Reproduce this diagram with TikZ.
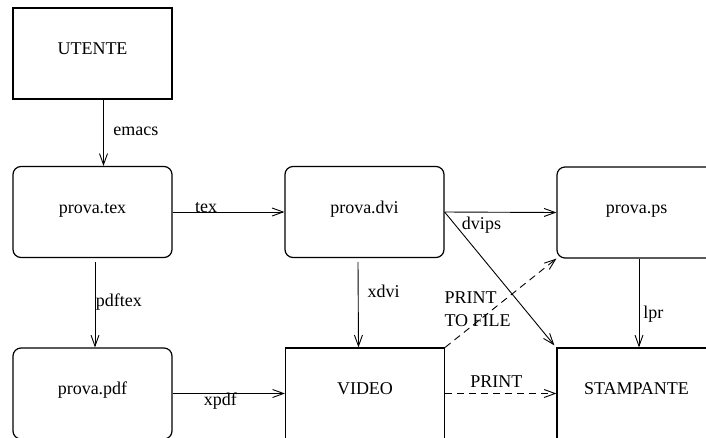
\documentclass[tikz,border=0pt]{standalone}
\usepackage{fontspec}
\setmainfont{Liberation Serif}
\usetikzlibrary{arrows.meta}
\begin{document}
\begin{tikzpicture}[x=1pt,y=-1pt,
  box/.style={draw, line width=1.2pt, minimum width=159pt, minimum height=91pt, inner sep=0pt,
    font=\fontsize{18}{23}\selectfont, text height=12pt, text depth=10pt},
  rbox/.style={box, rounded corners=8pt},
  conn/.style={line width=0.9pt, -{Straight Barb[length=11pt,width=8pt]}},
  dconn/.style={conn, dash pattern=on 7pt off 5pt},
  lab/.style={inner sep=0pt, font=\fontsize{18}{23}\selectfont}
]
\useasboundingbox (0,0) rectangle (706,437);
\clip (0,0) rectangle (706,437);

\node[box]  (utente) at (92.5,53.5)  {UTENTE};
\node[rbox] (ptex)   at (92.5,212)   {prova.tex};
\node[rbox] (dvi)    at (364.5,212)  {prova.dvi};
\node[rbox] (ps)     at (636.5,212.5){prova.ps};
\node[rbox] (pdf)    at (92.5,393.5) {prova.pdf};
\node[box]  (video)  at (365,393.5)  {VIDEO};
\node[box]  (stamp)  at (636.5,393.5){STAMPANTE};

\draw[conn] ([xshift=11pt]utente.south) -- node[lab,pos=0.54,anchor=base west,xshift=9.5pt]{emacs} ([xshift=11pt]ptex.north);
\draw[conn] (ptex.east) -- node[lab,pos=0.3,anchor=base]{tex} (dvi.west);
\draw[conn] (dvi.east) -- node[lab,pos=0.33,anchor=base,yshift=-17pt]{dvips} (ps.west);
\draw[conn] (dvi.east) -- ([shift={(-2pt,2pt)}]stamp.north west);
\draw[conn] ([xshift=-6.5pt,yshift=-4pt]dvi.south) -- node[lab,pos=0.42,anchor=base west,xshift=9pt]{xdvi} ([xshift=-6.5pt]video.north);
\draw[conn] ([xshift=2.5pt,yshift=-4pt]ptex.south) -- node[lab,pos=0.52,anchor=base west,xshift=0.5pt]{pdftex} ([xshift=2.5pt]pdf.north);
\draw[conn] ([xshift=2.5pt]ps.south) -- node[lab,pos=0.67,anchor=base west,xshift=4pt]{lpr} ([xshift=2.5pt]stamp.north);
\draw[conn] (pdf.east) -- node[lab,pos=0.425,anchor=base,yshift=-12pt]{xpdf} (video.west);
\draw[dconn] (video.east) -- node[lab,pos=0.46,anchor=base,yshift=6pt]{PRINT} (stamp.west);
\draw[dconn] (video.north east) -- node[lab,pos=0,anchor=south west,align=left,xshift=-1pt,yshift=20pt]{PRINT\\TO FILE} (ps.south west);
\end{tikzpicture}
\end{document}
